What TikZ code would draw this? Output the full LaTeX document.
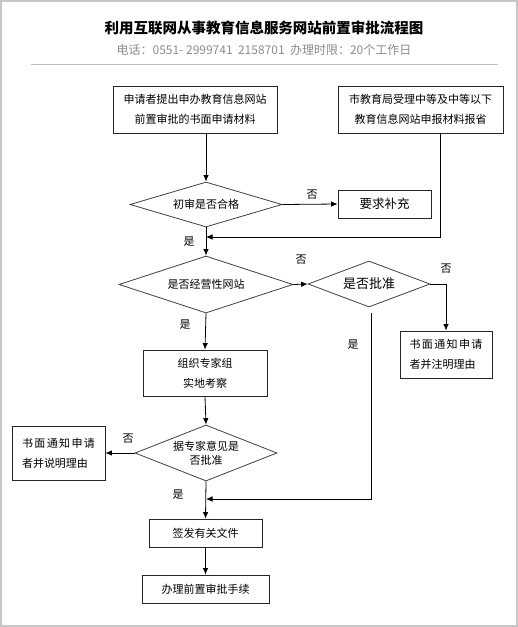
\documentclass[tikz,border=0pt]{standalone}
\usepackage{fontspec}
\setmainfont{Noto Sans CJK SC}
\usetikzlibrary{arrows.meta,shapes.geometric}

\begin{document}
\begin{tikzpicture}[x=1pt,y=-1pt,>={Latex[length=6.5pt,width=5.5pt]},line width=0.8pt]
\tikzstyle{rr} = [rectangle, draw=black!85, inner sep=0pt, align=center, font=\fontsize{11}{20}\selectfont]
\tikzstyle{dd} = [diamond, draw=black!75, inner sep=0pt, align=center, font=\fontsize{11}{16}\selectfont]
\tikzstyle{lb} = [font=\fontsize{11}{13}\selectfont]
\useasboundingbox (0,0) rectangle (518,627);
\draw[black!22, line width=1.2pt] (1,1) rectangle (517,626);
\node (Title) at (264,28) {\fontsize{14.5}{16}\selectfont\bfseries 利用互联网从事教育信息服务网站前置审批流程图};
\node (Sub) [text=black!45] at (264,50) {\fontsize{12}{13}\selectfont 电话：0551-\ 2999741\ \ 2158701\ \ 办理时限：20个工作日};
\draw[black!25, line width=0.6pt] (31,64) -- (498,64);
\node (A) [rr, minimum width=164, minimum height=47] at (195,109.5) {申请者提出申办教育信息网站\\前置审批的书面申请材料};
\node (B) [rr, minimum width=165, minimum height=47] at (420.5,109.5) {市教育局受理中等及中等以下\\教育信息网站申报材料报省};
\node (D1) [dd, minimum width=152, minimum height=45, shape aspect=3.38] at (206,204.5) {初审是否合格};
\node (Y) [rr, minimum width=93, minimum height=28, font=\fontsize{12.5}{14}\selectfont] at (384.5,204) {要求补充};
\node (D2) [dd, minimum width=174, minimum height=57, shape aspect=3.05] at (206,284.5) {是否经营性网站};
\node (D3) [dd, minimum width=122, minimum height=46, shape aspect=2.65, font=\fontsize{13}{15}\selectfont] at (369,284) {是否批准};
\node (R) [rr, minimum width=92, minimum height=47, align=left] at (446,354.5) {\makebox[73pt][s]{书\hfill 面\hfill 通\hfill 知\hfill 申\hfill 请}\\者并注明理由\hspace{10pt}};
\node (Z) [rr, minimum width=124, minimum height=46] at (205,373) {组织专家组\\实地考察};
\node (D4) [dd, minimum width=142, minimum height=56, shape aspect=2.54, font=\fontsize{11}{14}\selectfont] at (206,453) {据专家意见是\\否批准};
\node (L) [rr, minimum width=93, minimum height=54, align=left] at (58.5,453) {\makebox[73pt][s]{书\hfill 面\hfill 通\hfill 知\hfill 申\hfill 请}\\者并说明理由\hspace{10pt}};
\node (S) [rr, minimum width=113, minimum height=28] at (205.5,533) {签发有关文件};
\node (F) [rr, minimum width=127, minimum height=28] at (205.5,589) {办理前置审批手续};
\coordinate (jb) at (440,237);
\coordinate (j1) at (206,237);
\coordinate (j2) at (206,499);
\coordinate (jd) at (371,313);
\draw[->] (A.south -| D1.north) -- (D1.north);
\draw[->] (D1.east) -- (Y.west);
\draw[->] (jb |- B.south) -- (jb) -- (j1);
\draw[->] (D1.south) -- (D2.north);
\draw[->] (D2.east) -- (D3.west);
\draw[->] (D3.east) -| (R.north);
\draw[->] (jd) |- (j2);
\draw[->] (D2.south) -- (Z.north);
\draw[->] (Z.south) -- (D4.north);
\draw[->] (D4.west) -- (L.east);
\draw[->] (D4.south) -- (S.north);
\draw[->] (S.south) -- (F.north);
\node[lb] at (312,195) {否};
\node[lb] at (189,242) {是};
\node[lb] at (301,260) {否};
\node[lb] at (446,269) {否};
\node[lb] at (353,345) {是};
\node[lb] at (185,325) {是};
\node[lb] at (128,439) {否};
\node[lb] at (178,495) {是};
\end{tikzpicture}
\end{document}
